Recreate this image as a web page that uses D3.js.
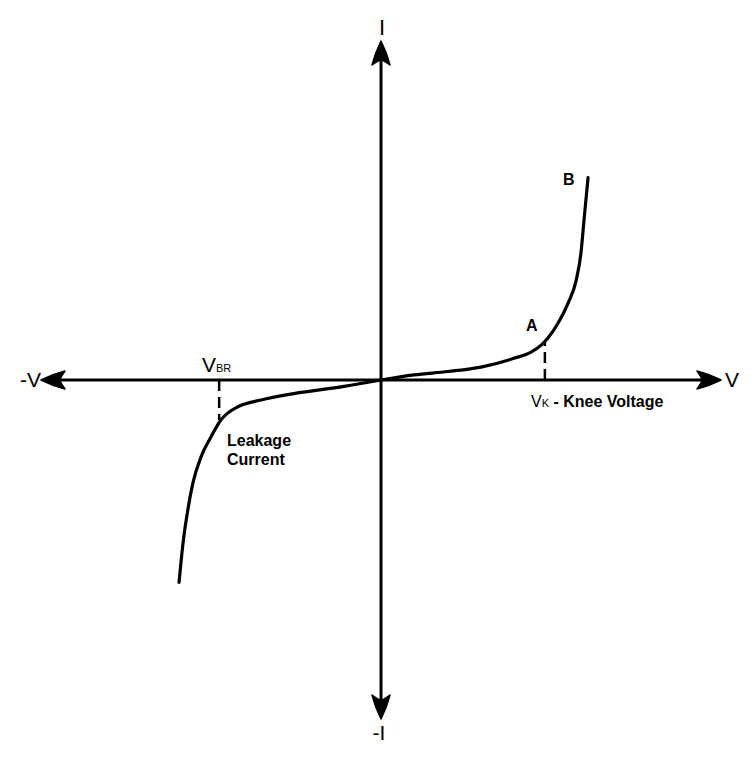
<!DOCTYPE html>
<html>
<head>
<meta charset="utf-8">
<script src="https://cdn.jsdelivr.net/npm/d3@7"></script>
<style>
  html, body { margin: 0; padding: 0; background: #fff; }
  svg { display: block; }
  text { font-family: "Liberation Sans", Arial, sans-serif; fill: #000; }
</style>
</head>
<body>
<script>
// ---- data (arbitrary normalised units) ----
const forwardV = [0, 0.097, 0.197, 0.294, 0.391, 0.441, 0.471, 0.491, 0.521, 0.550, 0.574, 0.588, 0.597, 0.609];
const forwardI = [0, 0.015, 0.025, 0.038, 0.064, 0.082, 0.103, 0.124, 0.168, 0.226, 0.294, 0.374, 0.471, 0.597];
const reverseV = [-0.594, -0.582, -0.568, -0.553, -0.529, -0.500, -0.471, -0.450, -0.421, -0.353, -0.256, -0.109, 0];
const reverseI = [-0.597, -0.479, -0.382, -0.303, -0.226, -0.168, -0.118, -0.097, -0.079, -0.059, -0.040, -0.019, 0];
const kneePoint = [0.482, 0.112];      // A / knee voltage
const breakdownPoint = [-0.476, -0.118]; // V_BR
const axisExtent = [-1, 1];

const W = 754, H = 759;
const svg = d3.select("body").append("svg").attr("width", W).attr("height", H);

const x = d3.scaleLinear().domain([-1, 1]).range([41, 721]);
const y = d3.scaleLinear().domain([-1, 1]).range([719, 41]);

const stroke = "#000";

// axes
svg.append("line")
  .attr("x1", x(axisExtent[0]) + 8).attr("x2", x(axisExtent[1]) - 8)
  .attr("y1", y(0)).attr("y2", y(0))
  .attr("stroke", stroke).attr("stroke-width", 3);
svg.append("line")
  .attr("x1", x(0)).attr("x2", x(0))
  .attr("y1", y(axisExtent[1]) + 8).attr("y2", y(axisExtent[0]) - 8)
  .attr("stroke", stroke).attr("stroke-width", 3);

// barbed arrowheads
function arrow(tx, ty, angleDeg) {
  const L = 24, hw = 9, notch = 19;
  const p = `M0,0 C-6,-3 -16,-7 -${L},-${hw} Q-${notch},-2 -${notch},0 Q-${notch},2 -${L},${hw} C-16,7 -6,3 0,0 Z`;
  svg.append("path")
    .attr("d", p)
    .attr("transform", `translate(${tx},${ty}) rotate(${angleDeg})`)
    .attr("fill", stroke).attr("stroke", stroke).attr("stroke-width", 1.5).attr("stroke-linejoin", "round");
}
arrow(x(axisExtent[1]), y(0), 0);
arrow(x(axisExtent[0]), y(0), 180);
arrow(x(0), y(axisExtent[1]), -90);
arrow(x(0), y(axisExtent[0]), 90);

// curves
const line = d3.line().x(d => x(d[0])).y(d => y(d[1])).curve(d3.curveMonotoneX);
const fwd = forwardV.map((v, i) => [v, forwardI[i]]);
const rev = reverseV.map((v, i) => [v, reverseI[i]]);
svg.append("path").attr("d", line(fwd)).attr("fill", "none").attr("stroke", stroke).attr("stroke-width", 3.2).attr("stroke-linecap", "round");
svg.append("path").attr("d", line(rev)).attr("fill", "none").attr("stroke", stroke).attr("stroke-width", 3.2).attr("stroke-linecap", "round");

// dashed drop lines
[kneePoint, breakdownPoint].forEach(pt => {
  svg.append("line")
    .attr("x1", x(pt[0])).attr("x2", x(pt[0]))
    .attr("y1", y(0)).attr("y2", y(pt[1]))
    .attr("stroke", stroke).attr("stroke-width", 2.5)
    .attr("stroke-dasharray", "11,6");
});

// axis labels
svg.append("text").attr("x", 382).attr("y", 35).attr("text-anchor", "middle").attr("font-size", 22).text("I");
svg.append("text").attr("x", 379).attr("y", 740).attr("text-anchor", "middle").attr("font-size", 21).text("-I");
svg.append("text").attr("x", 41).attr("y", 387).attr("text-anchor", "end").attr("font-size", 21).text("-V");
svg.append("text").attr("x", 725).attr("y", 387).attr("text-anchor", "start").attr("font-size", 21).text("V");

// point labels
svg.append("text").attr("x", 563).attr("y", 185).attr("font-size", 16).attr("font-weight", "bold").text("B");
svg.append("text").attr("x", 526).attr("y", 331).attr("font-size", 16).attr("font-weight", "bold").text("A");

// V_BR
const vbr = svg.append("text").attr("x", 202).attr("y", 372).attr("font-size", 21);
vbr.append("tspan").text("V");
vbr.append("tspan").attr("font-size", 11).text("BR");

// V_K - Knee Voltage
const vk = svg.append("text").attr("x", 531).attr("y", 407).attr("font-size", 16).attr("font-weight", "bold");
vk.append("tspan").attr("font-weight", "normal").attr("font-size", 16).text("V");
vk.append("tspan").attr("font-weight", "normal").attr("font-size", 11).text("K");
vk.append("tspan").text(" - Knee Voltage");

// Leakage current
svg.append("text").attr("x", 227).attr("y", 446).attr("font-size", 16).attr("font-weight", "bold").text("Leakage");
svg.append("text").attr("x", 227).attr("y", 465).attr("font-size", 16).attr("font-weight", "bold").text("Current");
</script>
</body>
</html>
